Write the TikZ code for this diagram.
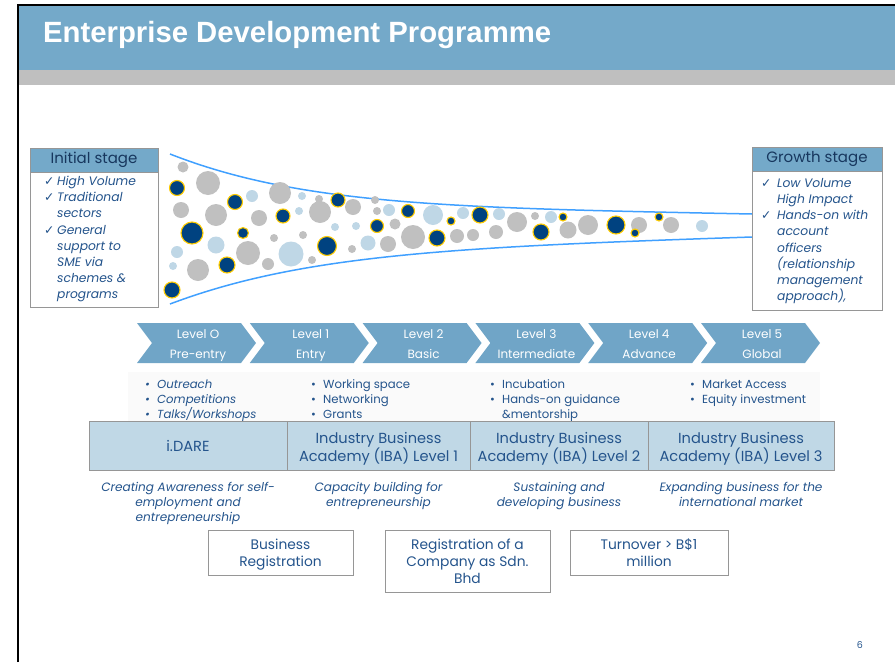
\documentclass[tikz,border=0pt]{standalone}
\usepackage{fontspec}
\setmainfont{Poppins}
\newfontfamily\titlefont{Liberation Sans}
\newfontfamily\symfont{DejaVu Sans}
\usetikzlibrary{positioning}

\definecolor{titleblue}{RGB}{116,169,201}
\definecolor{bandgray}{RGB}{191,191,191}
\definecolor{chevblue}{RGB}{112,165,199}
\definecolor{boxfill}{RGB}{192,216,230}
\definecolor{txtblue}{RGB}{36,84,140}
\definecolor{headtxt}{RGB}{23,55,94}
\definecolor{linegray}{RGB}{150,150,150}
\definecolor{navy}{RGB}{0,66,128}
\definecolor{ring}{RGB}{255,204,0}
\definecolor{lightbub}{RGB}{191,215,230}
\definecolor{graybub}{RGB}{192,192,192}
\definecolor{funnelblue}{RGB}{64,160,255}

\newcommand{\chk}[1]{\makebox[#1][l]{\symfont ✓}}
\newcommand{\bul}{\makebox[12pt][l]{\textbullet}}
\newcommand{\toprule}[1]{\rule{0pt}{#1}}

\tikzset{
  stagehead/.style={draw=linegray,fill=titleblue,text=headtxt,inner sep=0,outer sep=0,
    font=\fontsize{15}{18}\selectfont},
  stagebody/.style={draw=linegray,fill=white,inner sep=0,outer sep=0},
  stagetext/.style={anchor=north west,inner sep=0,align=left,text=txtblue,
    font=\itshape\fontsize{12.3}{16.2}\selectfont},
  chev/.style={fill=chevblue},
  chevtext/.style={text=white,align=center,inner sep=0,font=\fontsize{12}{20}\selectfont},
  bullist/.style={anchor=north west,inner sep=0,align=left,text=txtblue,
    font=\fontsize{11.7}{15}\selectfont},
  acad/.style={draw=linegray,fill=boxfill,text=txtblue,align=center,inner sep=0,outer sep=0,
    minimum height=49,font=\fontsize{14.6}{18}\selectfont},
  desc/.style={text=txtblue,align=center,inner sep=0,font=\itshape\fontsize{12.1}{15}\selectfont},
  regbox/.style={draw=linegray,text=txtblue,align=center,inner sep=0,anchor=north,
    font=\fontsize{13.8}{17}\selectfont},
  funnel/.style={draw=funnelblue,line width=1.5pt},
  gbub/.style={fill=graybub},
  lbub/.style={fill=lightbub},
  nbub/.style={fill=navy,draw=ring,line width=1.1pt}
}

\begin{document}
\begin{tikzpicture}[x=1pt,y=-1pt]
\useasboundingbox (0,0) rectangle (895,662);

% slide frame and title bar
\fill[titleblue] (18,6) rectangle (895,70);
\fill[bandgray] (18,70) rectangle (895,85);
\draw[line width=1.5pt] (18,662) -- (18,5) -- (895,5);
\node[anchor=west,text=white,inner sep=0,font=\titlefont\bfseries\fontsize{29.3}{32}\selectfont]
  (title) at (43,35) {Enterprise Development Programme};

% funnel
\draw[funnel] (170,154) .. controls (300,205) and (450,208) .. (752,214);
\draw[funnel] (170,304) .. controls (300,255) and (450,247) .. (752,237);

\foreach \x/\y/\r in {183/167/5.5,208/183/12,181/210/8,280/193/11,319/199/4,353/207/8,
  375/200/4,377/211/4,216/215/11,259/218/8,320/212/11,395/224/5.5,413/237/12,457/236/7,
  473/235/6,274/238/4,303/235/4,248/253/12,388/244/8,352/249/4,198/270/11,268/264/6,
  312/260/4,496/232/7,517/222/10,535/216/4,568/230/8.5,588/225/10,639/225/8,671/225/8}
  \fill[gbub] (\x,\y) circle (\r pt);
\foreach \x/\y/\r in {252/196/6,302/196/4,389/210/6,433/215/10,463/213/6,299/211/4,
  335/227/4,356/226/4,216/245/8.5,291/254/12.5,368/243/7.5,177/252/6,173/266/4,
  499/214/6,551/217/6,702/226/6}
  \fill[lbub] (\x,\y) circle (\r pt);
\foreach \x/\y/\r in {177/188/7.5,235/202/7.5,338/200/7,408/211/6.5,451/221/4,480/215/8,
  283/216/7,192/233/11,243/233/5.5,377/226/6.5,437/238/8,327/246/9.5,227/265/8,
  172/290/8,541/232/8,563/217/4,616/225/9,635/233/4,659/217/4}
  \filldraw[nbub] (\x,\y) circle (\r pt);

% initial stage
\node[stagehead,anchor=north west,minimum width=128,minimum height=24] (inithead) at (30,148) {Initial stage};
\node[stagebody,anchor=north west,minimum width=128,minimum height=135] (initbody) at (inithead.south west) {};
\node[stagetext] (inittext) at (44,176) {\chk{13pt}High Volume\\
  \chk{13pt}Traditional\\ \hspace*{13pt}sectors\\
  \chk{13pt}General\\ \hspace*{13pt}support to\\ \hspace*{13pt}SME via\\
  \hspace*{13pt}schemes \&\\ \hspace*{13pt}programs};

% growth stage
\node[stagehead,anchor=north west,minimum width=130,minimum height=24] (growhead) at (752,147) {Growth stage};
\node[stagebody,anchor=north west,minimum width=130,minimum height=139] (growbody) at (growhead.south west) {};
\node[stagetext] (growtext) at (761,178) {\chk{16pt}Low Volume\\ \hspace*{16pt}High Impact\\
  \chk{16pt}Hands-on with\\ \hspace*{16pt}account\\ \hspace*{16pt}officers\\
  \hspace*{16pt}(relationship\\ \hspace*{16pt}management\\ \hspace*{16pt}approach),};

% levels
\foreach \i/\ta/\tb in {0/Level O/Pre-entry,1/Level 1/Entry,2/Level 2/Basic,
  3/Level 3/Intermediate,4/Level 4/Advance,5/Level 5/Global}{
  \pgfmathsetmacro{\xl}{137+112.8*\i}
  \fill[chev] (\xl,323) -- ++(104,0) -- ++(15,20) -- ++(-15,20) -- ++(-104,0) -- ++(15,-20) -- cycle;
  \node[chevtext] (lvl\i) at (\xl+61,346) {\vphantom{Ly}\ta\\\vphantom{Ly}\tb};
}

% support lists
\fill[black!2] (128,372) rectangle (820,421);
\node[bullist,font=\itshape\fontsize{11.7}{15}\selectfont] (list0) at (145,380)
  {\vphantom{k}\bul Outreach\\ \bul Competitions\\ \bul Talks/Workshops};
\node[bullist] (list1) at (311,379) {\vphantom{k}\bul Working space\\ \bul Networking\\ \bul Grants};
\node[bullist] (list3) at (490,379) {\vphantom{k}\bul Incubation\\ \bul Hands-on guidance\\ \hspace*{12pt}\&mentorship};
\node[bullist] (list5) at (690,380) {\vphantom{k}\bul Market Access\\ \bul Equity investment};

% programmes
\node[acad,minimum width=198] (idare) at (188,445.5) {i.DARE};
\node[acad,minimum width=183,right=0pt of idare] (iba1) {\toprule{17pt}Industry Business\\Academy (IBA) Level 1};
\node[acad,minimum width=178,right=0pt of iba1] (iba2) {\toprule{17pt}Industry Business\\Academy (IBA) Level 2};
\node[acad,minimum width=186,right=0pt of iba2] (iba3) {\toprule{17pt}Industry Business\\Academy (IBA) Level 3};

\node[desc,below=12pt of idare] (didare) {Creating Awareness for self-\\employment and\\entrepreneurship};
\node[desc,below=12pt of iba1] (diba1) {Capacity building for\\entrepreneurship};
\node[desc,below=12pt of iba2] (diba2) {Sustaining and\\developing business};
\node[desc,below=12pt of iba3] (diba3) {Expanding business for the\\international market};

% milestones
\node[regbox,minimum width=145,minimum height=45] (bizreg) at (280.5,530) {\toprule{15pt}Business\\Registration};
\node[regbox,minimum width=165,minimum height=62] (sdnbhd) at (467.5,530) {\toprule{11pt}Registration of a\\Company as Sdn.\\Bhd};
\node[regbox,minimum width=158,minimum height=45] (turnover) at (649,530) {\toprule{11pt}Turnover > B\$1\\million};

\node[text=txtblue,font=\fontsize{9.5}{11}\selectfont] (pageno) at (860,645) {6};
\end{tikzpicture}
\end{document}
